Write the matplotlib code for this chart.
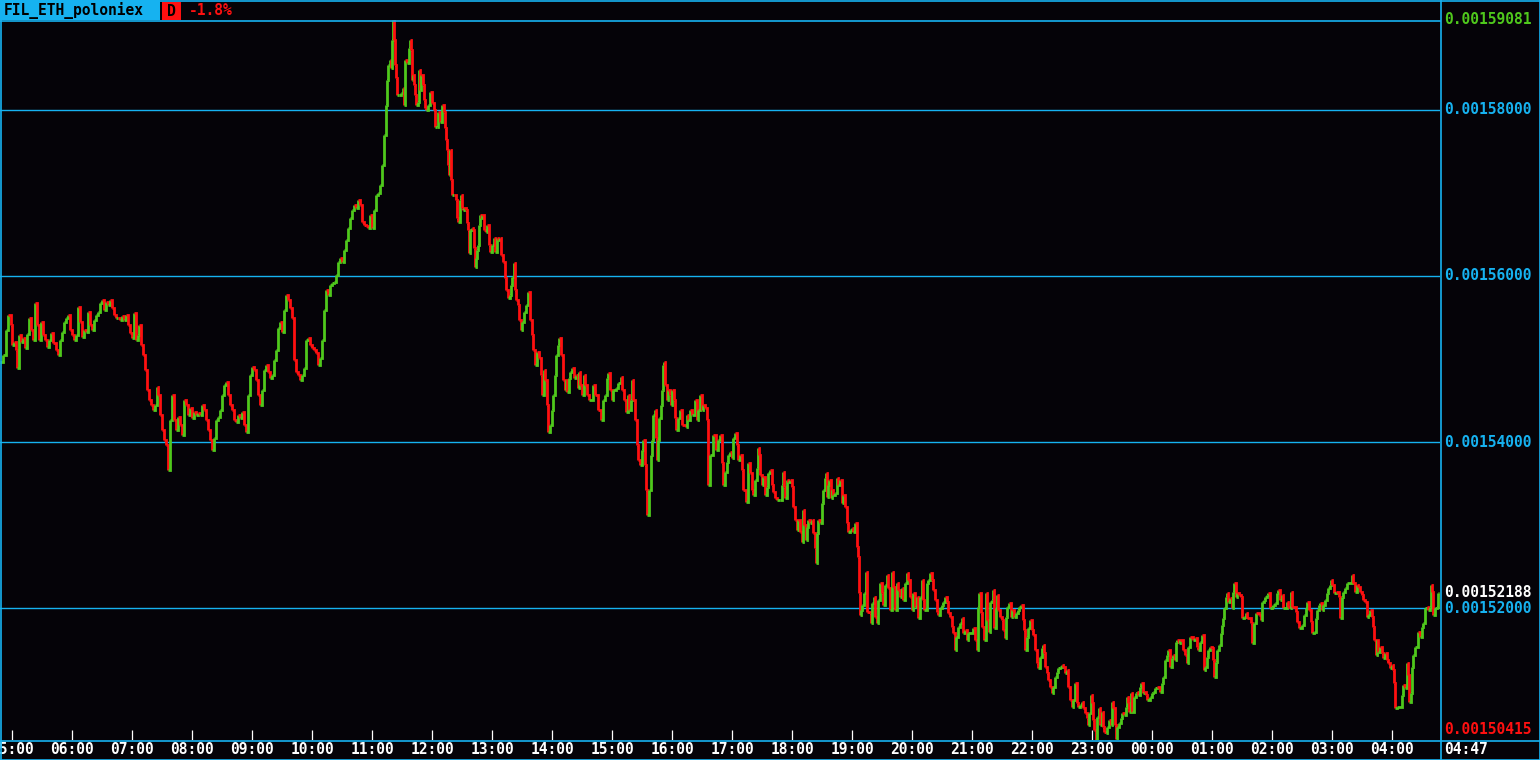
import numpy as np
import matplotlib
matplotlib.use("Agg")
import matplotlib.pyplot as plt
from matplotlib.collections import LineCollection
from matplotlib.patches import Rectangle

symbol = "FIL_ETH_poloniex"
timeframe = "D"
start_hour, start_min = 4, 48          # first bar 04:48
grid_levels = [0.00152, 0.00154, 0.00156, 0.00158]

# minutes since the first bar
minute = [
    0, 3, 6, 8, 11, 12, 14, 16, 17, 19,
    21, 23, 25, 27, 29, 31, 33, 35, 37, 39,
    41, 43, 45, 47, 49, 51, 53, 56, 58, 60,
    62, 64, 66, 68, 70, 72, 74, 76, 78, 80,
    82, 84, 86, 88, 90, 92, 94, 96, 98, 100,
    102, 104, 106, 108, 110, 112, 114, 116, 118, 120,
    122, 124, 126, 128, 130, 132, 134, 136, 138, 139,
    141, 143, 145, 147, 149, 151, 153, 155, 157, 158,
    160, 162, 164, 166, 168, 170, 172, 174, 176, 178,
    180, 182, 184, 186, 188, 190, 192, 194, 196, 198,
    200, 202, 204, 206, 208, 210, 212, 214, 216, 218,
    220, 222, 224, 226, 228, 230, 232, 234, 236, 238,
    240, 242, 244, 246, 248, 250, 252, 254, 256, 258,
    260, 262, 264, 266, 268, 270, 272, 274, 276, 278,
    280, 282, 284, 286, 288, 290, 292, 294, 296, 298,
    300, 302, 304, 306, 308, 310, 312, 314, 316, 318,
    320, 322, 324, 326, 328, 330, 332, 334, 336, 338,
    340, 342, 344, 346, 348, 350, 352, 354, 356, 358,
    360, 362, 364, 366, 368, 370, 372, 374, 376, 378,
    380, 382, 384, 386, 387, 388, 390, 391, 392, 393,
    394, 395, 396, 397, 399, 401, 403, 404, 405, 407,
    409, 410, 411, 412, 413, 414, 415, 416, 418, 419,
    420, 421, 423, 424, 425, 426, 428, 430, 432, 434,
    435, 437, 438, 440, 442, 444, 445, 446, 447, 448,
    449, 450, 451, 452, 454, 456, 457, 458, 460, 461,
    462, 463, 464, 466, 467, 468, 469, 470, 472, 473,
    474, 475, 476, 477, 478, 479, 480, 481, 482, 484,
    486, 487, 489, 490, 492, 494, 495, 497, 498, 500,
    501, 503, 505, 506, 508, 510, 511, 512, 514, 515,
    516, 518, 519, 521, 522, 524, 526, 528, 530, 532,
    533, 535, 537, 539, 541, 542, 544, 545, 547, 548,
    550, 552, 553, 555, 556, 558, 559, 561, 563, 565,
    566, 567, 569, 570, 572, 574, 576, 578, 579, 580,
    582, 584, 585, 587, 589, 593, 595, 598, 601, 603,
    605, 607, 608, 610, 612, 613, 616, 618, 621, 622,
    624, 626, 628, 629, 631, 632, 633, 635, 637, 638,
    640, 642, 643, 645, 646, 647, 649, 651, 652, 653,
    655, 656, 657, 658, 659, 661, 662, 663, 664, 665,
    667, 668, 670, 671, 672, 674, 675, 676, 678, 680,
    682, 686, 687, 688, 690, 692, 695, 697, 698, 700,
    702, 703, 705, 707, 708, 710, 713, 716, 718,
    720, 722, 723, 725, 727, 728, 730, 732, 733, 735,
    737, 738, 740, 742, 743, 746, 748, 750, 752, 753,
    755, 757, 758, 759, 760, 762, 763, 765, 767, 768,
    770, 772, 773, 775, 777, 780, 782, 783, 784, 785,
    787, 788, 790, 792, 793, 795, 797, 798, 800, 802,
    803, 804, 806, 807, 808, 810, 812, 813, 815, 816,
    817, 818, 820, 822, 823, 825, 826, 827, 828, 829,
    831, 832, 833, 835, 837, 838, 840, 842, 843, 845,
    847, 848, 850, 852, 853, 855, 857, 858, 859, 860,
    861, 862, 864, 866, 867, 870, 871, 872, 874, 875,
    877, 878, 880, 882, 883, 885, 887, 888, 890, 892,
    893, 895, 897, 898, 900, 902, 903, 905, 907, 908,
    910, 912, 913, 915, 917, 918, 920, 922, 923, 924,
    927, 928, 930, 932, 933, 935, 937, 938, 940, 942,
    943, 945, 947, 948, 950, 952, 953, 955, 956, 958,
    960, 962, 963, 965, 967, 968, 973, 975, 977, 978,
    979, 981, 982, 984, 986, 987, 989, 990, 992, 993,
    994, 996, 997, 998, 1000, 1002, 1003, 1005, 1006, 1007,
    1009, 1011, 1012, 1014, 1016, 1018, 1019, 1021, 1023, 1024,
    1025, 1027, 1028, 1030, 1032, 1033, 1035, 1037, 1038, 1040,
    1042, 1043, 1044, 1045, 1047, 1048, 1050, 1052, 1053, 1055,
    1057, 1058, 1060, 1062, 1063, 1065, 1067, 1068, 1070, 1072,
    1073, 1075, 1077, 1078,
    1080, 1082, 1083, 1085, 1087, 1088, 1089, 1091, 1092, 1093,
    1094, 1096, 1097, 1099, 1100, 1102, 1103, 1104, 1106, 1107,
    1109, 1111, 1112, 1113, 1115, 1116, 1117, 1119, 1121, 1122,
    1124, 1126, 1127, 1128, 1129, 1131, 1132, 1134, 1136, 1137,
    1138, 1140, 1141, 1143, 1144, 1146, 1147, 1150, 1152, 1153,
    1155, 1157, 1160, 1162, 1163, 1165, 1167, 1168, 1170, 1172,
    1173, 1175, 1176, 1177, 1179, 1180, 1183, 1185, 1187, 1188,
    1190, 1193, 1195, 1197, 1198, 1200, 1202, 1204, 1205, 1207,
    1208, 1210, 1212, 1213, 1214, 1216, 1217, 1219, 1221, 1222,
    1223, 1224, 1226, 1227, 1228, 1230, 1232, 1233, 1234, 1236,
    1237, 1239, 1241, 1242, 1244, 1246, 1247, 1251, 1252, 1254,
    1256, 1259, 1261, 1262, 1264, 1265, 1267, 1268, 1270, 1272,
    1273, 1275, 1277, 1278, 1280, 1282, 1283, 1287, 1288, 1290,
    1291, 1292, 1296, 1297, 1299, 1302, 1304, 1306, 1307, 1309,
    1311, 1312, 1314, 1316, 1317, 1319, 1320, 1322, 1323, 1325,
    1327, 1328, 1330, 1331, 1332, 1334, 1336, 1339, 1340, 1342,
    1343, 1345, 1347, 1352, 1353, 1355, 1357, 1358, 1360, 1362,
    1363, 1365, 1367, 1368, 1370, 1372, 1373, 1374, 1376, 1377,
    1378, 1380, 1382, 1383, 1385, 1387, 1388, 1390, 1392, 1393,
    1394, 1395, 1397, 1402, 1403, 1405, 1407, 1408, 1409, 1411,
    1412, 1413, 1415, 1418, 1420, 1422, 1423, 1425, 1427, 1428,
    1430, 1431, 1432, 1433, 1435, 1437, 1438, 1439,
]

# close prices in units of 1e-8 ETH
close_e8 = [
    154963, 155048, 155349, 155529, 155409, 155168, 155204, 155108, 154891, 155288,
    155204, 155252, 155132, 155300, 155493, 155349, 155228, 155674, 155409, 155228,
    155445, 155288, 155228, 155144, 155228, 155312, 155192, 155108, 155048, 155228,
    155325, 155445, 155493, 155529, 155349, 155288, 155228, 155288, 155626, 155445,
    155264, 155349, 155325, 155565, 155409, 155349, 155469, 155529, 155565, 155674,
    155710, 155589, 155686, 155650, 155710, 155613, 155529, 155493, 155493, 155469,
    155517, 155469, 155529, 155409, 155312, 155252, 155553, 155228, 155288, 155409,
    155168, 155048, 154867, 154626, 154506, 154446, 154385, 154446, 154662, 154566,
    154325, 154145, 154024, 153964, 153663, 154265, 154566, 154265, 154145, 154301,
    154205, 154084, 154506, 154446, 154325, 154409, 154289, 154361, 154325, 154349,
    154325, 154446, 154385, 154265, 154145, 154024, 153904, 154048, 154265, 154301,
    154385, 154566, 154686, 154723, 154566, 154446, 154385, 154265, 154241, 154325,
    154289, 154361, 154205, 154121, 154566, 154807, 154903, 154867, 154747, 154566,
    154446, 154626, 154867, 154927, 154843, 154771, 154807, 154987, 155108, 155373,
    155445, 155325, 155589, 155770, 155710, 155613, 155493, 154987, 154843, 154807,
    154747, 154807, 154891, 155228, 155252, 155168, 155132, 155108, 155072, 154927,
    155011, 155228, 155589, 155830, 155770, 155890, 155914, 155927, 156011, 156167,
    156215, 156167, 156312, 156432, 156577, 156697, 156793, 156854, 156817, 156914,
    156854, 156649, 156613, 156601, 156577, 156733, 156577, 156793, 156974, 156998,
    157094, 157335, 157696, 158058, 158359, 158539, 158599, 158503, 158840, 159081,
    158840, 158539, 158383, 158178, 158178, 158202, 158262, 158058, 158599, 158563,
    158744, 158840, 158720, 158359, 158419, 158298, 158178, 158058, 158094, 158479,
    158238, 158419, 158298, 158118, 158021, 157997, 158058, 158214, 158082, 157997,
    157793, 157793, 157973, 157853, 158058, 157973, 157781, 157636, 157516, 157335,
    157215, 157516, 157155, 156974, 156974, 156914, 156697, 156649, 156914, 156974,
    156817, 156793, 156817, 156793, 156637, 156553, 156276, 156553, 156577, 156553,
    156336, 156107, 156215, 156312, 156372, 156613, 156733, 156697, 156733, 156553,
    156529, 156613, 156372, 156288, 156372, 156456, 156288, 156456, 156432, 156456,
    156252, 156167, 155975, 155830, 155734, 155770, 155890, 155987, 156155, 155830,
    155710, 155650, 155469, 155349, 155445, 155565, 155650, 155806, 155469, 155288,
    155108, 154927, 155084, 155011, 154807, 154566, 154867, 154747, 154446, 154121,
    154205, 154385, 154566, 154807, 155048, 155168, 155252, 155048, 154747, 154626,
    154747, 154602, 154771, 154843, 154891, 154771, 154807, 154650, 154843, 154686,
    154566, 154807, 154686, 154566, 154506, 154686, 154566, 154385, 154265, 154506,
    154566, 154771, 154831, 154626, 154506, 154626, 154650, 154710, 154783, 154626,
    154506, 154361, 154566, 154385, 154506, 154747, 154506, 154265, 153964, 153783,
    153723, 153904, 154024, 153723, 153422, 153121, 153422, 153844, 154024, 154325,
    154385, 154048, 153783, 154024, 154289, 154446, 154626, 154927, 154963, 154686,
    154506, 154626, 154566, 154446, 154626, 154506, 154289, 154145, 154289, 154385,
    154205, 154181, 154325, 154265, 154385, 154325, 154506, 154265, 154385, 154566,
    154385, 154446, 154409, 154265, 153482, 153844, 154084, 153904, 154024,
    154084, 153747, 153482, 153639, 153759, 153844, 153880, 153807, 154048, 154108,
    153964, 153783, 153844, 153663, 153422, 153278, 153747, 153627, 153422, 153362,
    153543, 153687, 153928, 153844, 153603, 153482, 153579, 153362, 153458, 153627,
    153663, 153482, 153398, 153326, 153302, 153302, 153482, 153639, 153458, 153326,
    153543, 153519, 153543, 153458, 153218, 153061, 152941, 153061, 152917, 152796,
    153181, 153001, 152820, 152977, 153061, 153025, 153061, 152904, 152724, 152543,
    152904, 153061, 153025, 153266, 153422, 153567, 153627, 153338, 153482, 153543,
    153326, 153422, 153362, 153386, 153567, 153482, 153543, 153266, 153362, 153218,
    153025, 152917, 152941, 152965, 152917, 153025, 152736, 152616, 152182, 151917,
    151977, 152038, 152182, 152435, 151953, 151941, 151821, 152062, 152134, 151893,
    151821, 152098, 152302, 152182, 152038, 152278, 152399, 152242, 151977, 152435,
    152254, 151977, 152302, 152218, 152134, 152242, 152098, 152302, 152423, 152339,
    152134, 151977, 152182, 152014, 152134, 151881, 152134, 152339, 152098, 151977,
    152302, 152339, 152423, 152339, 152218, 152098, 151953, 151917, 152001, 152038,
    152074, 152134, 152074, 151941, 151893, 151773, 151700, 151496, 151652, 151773,
    151821, 151881, 151700, 151737, 151616, 151700, 151761, 151616, 151496, 152014,
    152182, 151941, 151773, 151616, 152182, 151857, 151713, 152074, 152098, 152218,
    151761, 152001, 152158, 151977, 151893, 151857, 151737, 151640, 151893, 152014,
    152062, 151893, 151977, 151893, 151941, 151977, 152014, 152038, 151857, 151737,
    151496, 151652, 151761, 151857, 151737, 151676, 151496, 151339, 151279, 151412,
    151520, 151556, 151460, 151291, 151219, 151135, 151050, 150978, 151050, 151171,
    151231, 151279, 151291, 151315, 151291, 151219, 151255, 151050, 150894, 150810,
    150894, 151098, 150858, 150810,
    150834, 150870, 150797, 150737, 150677, 150593, 150737, 150954, 150858, 150653,
    150533, 150415, 150689, 150797, 150593, 150749, 150569, 150509, 150496, 150569,
    150653, 150593, 150870, 150797, 150593, 150430, 150569, 150617, 150677, 150737,
    150713, 150810, 150930, 150858, 150749, 150978, 150749, 150930, 150978, 150990,
    150954, 151050, 151098, 150978, 150990, 150954, 150894, 150930, 150978, 150990,
    151038, 151050, 150990, 151098, 151171, 151375, 151436, 151496, 151291, 151399,
    151436, 151375, 151592, 151616, 151580, 151616, 151496, 151436, 151339, 151532,
    151652, 151616, 151640, 151532, 151496, 151592, 151676, 151255, 151291, 151412,
    151496, 151532, 151520, 151375, 151171, 151351, 151496, 151556, 151700, 151797,
    151881, 152001, 152134, 152182, 152074, 152122, 152001, 152194, 152302, 152134,
    152182, 152158, 152134, 151881, 151893, 151941, 151881, 151821, 151580, 151821,
    151941, 151917, 151857, 152074, 152098, 152134, 152158, 152182, 152001, 152014,
    152038, 152062, 152182, 152218, 152098, 152158, 152001, 152074, 152014, 152001,
    152194, 152014, 151953, 151833, 151761, 151797, 151917, 152001, 152074, 151977,
    151833, 151700, 151713, 151881, 151977, 152038, 152062, 151977, 152038, 152098,
    152182, 152242, 152278, 152339, 152278, 152182, 152194, 152134, 151881, 152134,
    152194, 152242, 152302, 152399, 152302, 152194, 152278, 152254, 152194, 152158,
    152098, 152074, 151893, 151917, 151977, 151893, 151773, 151616, 151436, 151616,
    151472, 151532, 151460, 151399, 151460, 151375, 151339, 151279, 151315, 151255,
    151098, 150797, 150810, 150954, 151074, 151038, 151339, 151195, 150870, 150978,
    151291, 151436, 151532, 151713, 151652, 151773, 151821, 152001, 152014, 151977,
    152014, 152278, 152194, 151917, 152001, 152014, 152182, 152188,
]

assert len(minute) == len(close_e8)

# ---- style ----
BG = "#050308"
CYAN = "#16b2f0"
GREEN = "#4fc81c"
RED = "#ff1010"
WHITE = "#ffffff"
plt.rcParams["font.family"] = ["DejaVu Sans Mono"]
plt.rcParams["font.weight"] = "bold"
FS = 10.5

t = np.array(minute, dtype=float)
c = np.array(close_e8) * 1e-8
W, H = 1540, 760
plot_w, top, bottom = 1440, 20, 740

fig = plt.figure(figsize=(W / 100, H / 100), dpi=100, facecolor=BG)
ax = fig.add_axes([0, (H - bottom) / H, plot_w / W, (bottom - top) / H])
ax.set_xlim(0, plot_w)
ax.set_ylim(c.min(), c.max())
ax.axis("off")

# grid levels
for lv in grid_levels:
    ax.axhline(lv, color=CYAN, lw=1.0, zorder=1)

# price bars: vertical move from previous close to close, green up / red down
segs, cols = [], []
for i in range(1, len(t)):
    segs.append([(t[i - 1], c[i - 1]), (t[i], c[i - 1]), (t[i], c[i])])
    cols.append(GREEN if c[i] >= c[i - 1] else RED)
ax.add_collection(LineCollection(segs, colors=cols, linewidths=2.0,
                                 capstyle="butt", joinstyle="miter", zorder=2))

# hour ticks and labels along the bottom
first_tick = (60 - start_min) % 60
hour_ticks = np.arange(first_tick, plot_w, 60)
xtrans = ax.get_xaxis_transform()
ax.vlines(hour_ticks, 0, 10 / (bottom - top), color=WHITE, lw=0.9, transform=xtrans, zorder=3)
for k, m in enumerate(hour_ticks):
    hh = (start_hour + 1 + k) % 24
    ax.annotate(f"{hh:02d}:00", xy=(m, 0), xycoords=xtrans, xytext=(0, -10),
                textcoords="offset pixels", ha="center", va="center",
                color=WHITE, fontsize=FS, annotation_clip=False)

# right-hand price labels
def price_label(v, color, dy=0):
    ax.annotate(f"{v:.8f}", xy=(1, v), xycoords=("axes fraction", "data"),
                xytext=(4, dy), textcoords="offset pixels", ha="left", va="center",
                color=color, fontsize=FS, annotation_clip=False)

for lv in grid_levels:
    price_label(lv, CYAN)
price_label(c.max(), GREEN)
price_label(c[-1], WHITE)
price_label(c.min(), RED, dy=11)

# ---- frame, header ----
frame = fig.add_axes([0, 0, 1, 1], zorder=5)
frame.set_xlim(0, W)
frame.set_ylim(H, 0)
frame.axis("off")
kw = dict(color=CYAN, lw=1.2)
frame.plot([0, W], [0.5, 0.5], **kw)
frame.plot([0, W], [H - 0.5, H - 0.5], **kw)
frame.plot([0.5, 0.5], [0, H], **kw)
frame.plot([W - 0.5, W - 0.5], [0, H], **kw)
frame.plot([plot_w + 0.5, plot_w + 0.5], [0, H], **kw)
frame.plot([0, plot_w], [top + 0.5, top + 0.5], **kw)
frame.plot([0, W], [bottom + 0.5, bottom + 0.5], **kw)

frame.add_patch(Rectangle((0, 0), 160, top, color=CYAN, lw=0))
frame.text(4, 10.5, symbol, color="black", fontsize=FS, va="center", ha="left")
frame.add_patch(Rectangle((162, 2), 19, top - 2, color=RED, lw=0))
frame.text(171.5, 11, timeframe, color="black", fontsize=FS, va="center", ha="center")
pct = (c[-1] - c[0]) / c[0] * 100
frame.text(189, 10.5, f"{pct:.1f}%", color=RED, fontsize=FS, va="center", ha="left")

end_total = start_hour * 60 + start_min + minute[-1]
frame.text(plot_w + 4, 750, f"{(end_total // 60) % 24:02d}:{end_total % 60:02d}",
           color=WHITE, fontsize=FS, va="center", ha="left")

fig.savefig("out.png", dpi=100, facecolor=BG)
